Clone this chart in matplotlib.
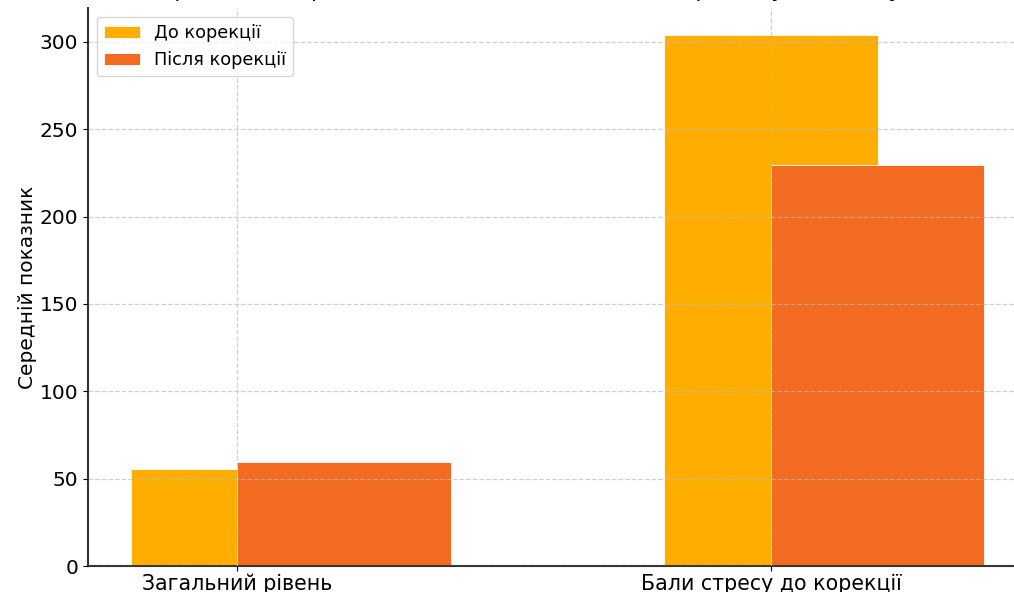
import numpy as np
import matplotlib.pyplot as plt

categories = ['Загальний рівень', 'Бали стресу до корекції']
before = [55.5, 304.0]
after = [59.5, 229.5]
labels = ['До корекції', 'Після корекції']
title = 'Порівняння середніх показників до та після корекції у досліджуваних'

plt.rcParams['font.family'] = ['DejaVu Sans']

fig = plt.figure(figsize=(10.14, 5.92), dpi=100)
ax = fig.add_axes([0.0868, 0.0439, 0.926, 0.942])

x = np.arange(len(categories))
width = 0.4

ax.bar(x, before, width, label=labels[0], color='#FFAE00', edgecolor='white', linewidth=0.6)
ax.bar(x + width / 2, after, width, label=labels[1], color='#F26B21', edgecolor='white', linewidth=0.6)

ax.set_xticks(x)
ax.set_xticklabels(categories, fontsize=14.8)
ax.tick_params(axis='x', pad=2)
ax.tick_params(axis='y', labelsize=14.5)
ax.set_ylabel('Середній показник', fontsize=14.5, labelpad=2)
ax.set_title(title, fontsize=16, pad=8)

ax.grid(True, linestyle='--', color='#BBBBBB', alpha=0.7, linewidth=0.9)
ax.set_axisbelow(False)

for side in ['top', 'right']:
    ax.spines[side].set_visible(False)
ax.spines['left'].set_color('#333333')
ax.spines['bottom'].set_color('#333333')
ax.spines['left'].set_linewidth(1.5)
ax.spines['bottom'].set_linewidth(1.5)

ax.legend(loc='upper left', fontsize=12.8, frameon=True)

fig.savefig('out.png', dpi=100)
